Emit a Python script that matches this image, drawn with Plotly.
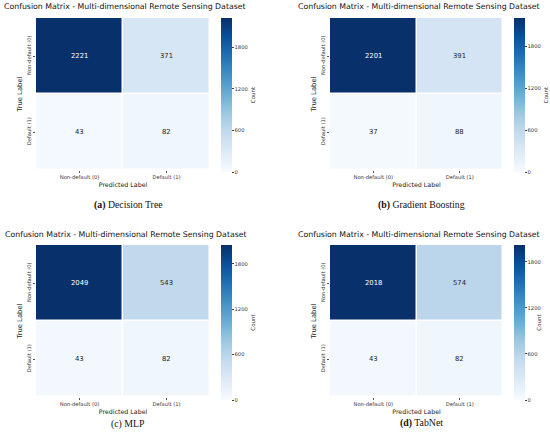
import plotly.graph_objects as go
import plotly.express as px

# confusion matrices (rows = true, cols = predicted)
class_labels = ["Non-default (0)", "Default (1)"]
cm_decision_tree = [[2221, 371], [43, 82]]
cm_grad_boost = [[2201, 391], [37, 88]]
cm_mlp = [[2049, 543], [43, 82]]
cm_tabnet = [[2018, 574], [43, 82]]
panel_tags = ["(a)", "(b)", "(c)", "(d)"]
panel_names = ["Decision Tree", "Gradient Boosting", "MLP", "TabNet"]
tag_bold = [True, True, False, True]
cbar_ticks = [0, 600, 1200, 1800]

W, H = 550, 440
title_text = "Confusion Matrix - Multi-dimensional Remote Sensing Dataset"
blues = px.colors.sequential.Blues

# pixel boxes: heatmap x0,x1,y0,y1 ; colorbar x0, y0, y1 ; title x,y ; caption cx,cy
panels = [
    dict(cm=cm_decision_tree, hx=(36, 210), hy=(18, 170), cbx=221, cby=(18, 172), tx=2, ty=7, cx=128, cy=205),
    dict(cm=cm_grad_boost, hx=(330, 503), hy=(18, 170), cbx=514, cby=(18, 172), tx=296, ty=7, cx=422, cy=205),
    dict(cm=cm_mlp, hx=(36, 210), hy=(245, 397), cbx=221, cby=(245, 400), tx=3, ty=234, cx=128, cy=424),
    dict(cm=cm_tabnet, hx=(330, 503), hy=(245, 397), cbx=514, cby=(245, 400), tx=296, ty=234, cx=422, cy=423),
]

fig = go.Figure()
annotations = []
font_main = "DejaVu Sans"

for i, p in enumerate(panels):
    n = i + 1
    ax = "" if n == 1 else str(n)
    z = p["cm"]
    zmax = max(max(r) for r in z)
    cb_len = (p["cby"][1] - p["cby"][0]) / H
    cb_y = 1 - (p["cby"][0] + p["cby"][1]) / 2 / H
    fig.add_trace(go.Heatmap(
        z=z, x=class_labels, y=class_labels,
        xaxis="x" + ax, yaxis="y" + ax,
        colorscale=blues, zmin=0, zmax=zmax,
        xgap=1.5, ygap=1.5,
        hoverinfo="z",
        colorbar=dict(
            x=p["cbx"] / W, xanchor="left", xpad=0,
            y=cb_y, yanchor="middle", ypad=0,
            len=cb_len, lenmode="fraction", thickness=11,
            outlinewidth=0,
            tickvals=cbar_ticks, ticks="outside", ticklen=2, tickwidth=0.6,
            tickcolor="#444", tickfont=dict(size=5.2, color="#333", family=font_main),
            title=dict(text="Count", side="right", font=dict(size=5.5, color="#333", family=font_main)),
        ),
    ))
    xd = [p["hx"][0] / W, p["hx"][1] / W]
    yd = [1 - p["hy"][1] / H, 1 - p["hy"][0] / H]
    fig.update_layout({
        "xaxis" + ax: dict(
            domain=xd, anchor="y" + ax, showgrid=False, zeroline=False, showline=False,
            ticks="outside", ticklen=2, tickwidth=0.5, tickcolor="#555",
            tickfont=dict(size=5.2, color="#333", family=font_main),
            title=dict(text="Predicted Label", font=dict(size=6.3, color="#222", family=font_main), standoff=3),
        ),
        "yaxis" + ax: dict(
            domain=yd, anchor="x" + ax, autorange="reversed", showgrid=False, zeroline=False,
            showline=False, ticks="outside", ticklen=2, tickwidth=0.5, tickcolor="#555",
            tickangle=-90, tickfont=dict(size=5.2, color="#333", family=font_main),
            title=dict(text="True Label", font=dict(size=6.8, color="#222", family=font_main), standoff=2),
        ),
    })
    # cell counts
    for r, true_lab in enumerate(class_labels):
        for c, pred_lab in enumerate(class_labels):
            v = z[r][c]
            annotations.append(dict(
                x=pred_lab, y=true_lab, xref="x" + ax, yref="y" + ax,
                text=str(v), showarrow=False,
                font=dict(size=6.8, family=font_main, color="white" if v > zmax / 2 else "#262626"),
            ))
    # panel title
    annotations.append(dict(
        x=p["tx"] / W, y=1 - p["ty"] / H, xref="paper", yref="paper",
        xanchor="left", yanchor="middle", text=title_text, showarrow=False,
        font=dict(size=7.8, family=font_main, color="#111"),
    ))
    # caption
    tag = "<b>%s</b>" % panel_tags[i] if tag_bold[i] else panel_tags[i]
    annotations.append(dict(
        x=p["cx"] / W, y=1 - p["cy"] / H, xref="paper", yref="paper",
        xanchor="center", yanchor="middle", text=tag + " " + panel_names[i], showarrow=False,
        font=dict(size=9.8, family="Liberation Serif", color="#111"),
    ))

fig.update_layout(
    width=W, height=H, margin=dict(l=0, r=0, t=0, b=0),
    paper_bgcolor="white", plot_bgcolor="white",
    annotations=annotations, showlegend=False,
)
# drop the browser's default body margin so the figure fills the window
fig.write_html("out.html", config={"displayModeBar": False},
               post_script="document.body.style.margin='0';")
